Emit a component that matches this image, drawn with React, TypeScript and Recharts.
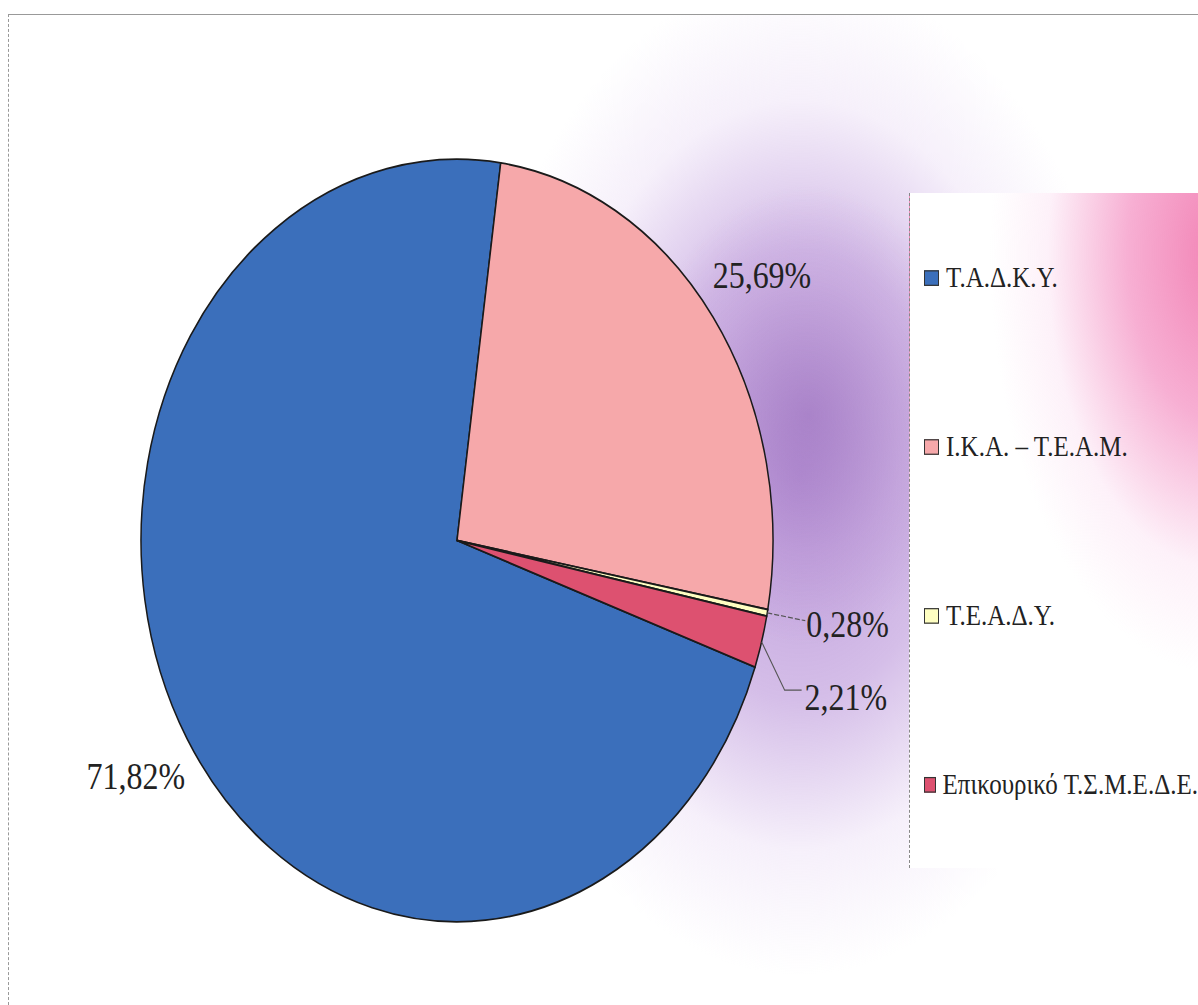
import { PieChart, Pie, Cell, Legend } from "recharts";

// funds and their shares (%)
const funds = ["Τ.Α.Δ.Κ.Υ.", "Ι.Κ.Α. – Τ.Ε.Α.Μ.", "Τ.Ε.Α.Δ.Υ.", "Επικουρικό Τ.Σ.Μ.Ε.Δ.Ε."];
const shares = [71.82, 25.69, 0.28, 2.21];
const colors = ["#3b6fbb", "#f6a8aa", "#ffffc2", "#dd5170"];

const data = funds.map((name, i) => ({ name, value: shares[i] }));

// the original picture is stretched vertically
const STRETCH = 1.2065;
const RAD = Math.PI / 180;
const FONT = "'Liberation Serif', 'Times New Roman', serif";

const fmt = (p: number) => (p * 100).toFixed(2).replace(".", ",") + "%";

const renderLabel = (props: any) => {
  const { cx, cy, midAngle, outerRadius, percent, index } = props;
  const cos = Math.cos(-midAngle * RAD);
  const sin = Math.sin(-midAngle * RAD);
  const text = fmt(percent);

  if (percent > 0.05) {
    const r = outerRadius * 1.19;
    return (
      <text
        x={cx + r * cos}
        y={cy + r * sin}
        textAnchor="middle"
        dominantBaseline="central"
        fontFamily={FONT}
        fontSize={32}
        fill="#222"
      >
        {text}
      </text>
    );
  }

  // small slices get a leader line out to the right
  const ex = cx + outerRadius * cos;
  const ey = cy + outerRadius * sin;
  if (index === 2) {
    return (
      <g>
        <path d={`M${ex},${ey}L${ex + 38},${ey + 6.5}`} stroke="#555" strokeWidth={1} strokeDasharray="5 2" fill="none" />
        <text x={ex + 39} y={ey + 9.5} dominantBaseline="central" fontFamily={FONT} fontSize={32} fill="#222">
          {text}
        </text>
      </g>
    );
  }
  return (
    <g>
      <path d={`M${ex},${ey}L${ex + 23},${ey + 40}L${ex + 40},${ey + 40}`} stroke="#555" strokeWidth={1} fill="none" />
      <text x={ex + 43} y={ey + 46} dominantBaseline="central" fontFamily={FONT} fontSize={32} fill="#222">
        {text}
      </text>
    </g>
  );
};

const renderLegend = (props: any) => {
  const items = [...props.payload].sort(
    (a: any, b: any) => funds.indexOf(a.value) - funds.indexOf(b.value)
  );
  return (
    <div
      style={{
        display: "flex",
        flexDirection: "column",
        justifyContent: "space-around",
        height: 560,
        paddingLeft: 15,
        boxSizing: "border-box",
      }}
    >
      {items.map((entry: any, i: number) => (
        <div key={i} style={{ display: "flex", alignItems: "center", height: 30 }}>
          <span
            style={{
              display: "inline-block",
              width: 13,
              height: 11,
              background: entry.color,
              border: "1px solid #333",
              marginRight: 7,
            }}
          />
          <span style={{ fontFamily: FONT, fontSize: 25, color: "#222", whiteSpace: "nowrap" }}>
            {entry.value}
          </span>
        </div>
      ))}
    </div>
  );
};

export default function App() {
  return (
    <div style={{ position: "absolute", left: 0, top: 0, width: 1198, height: 1005, overflow: "hidden", background: "#fff" }}>
      {/* frame + purple glow */}
      <div
        style={{
          position: "absolute",
          left: 8,
          top: 14,
          width: 1200,
          height: 1000,
          borderTop: "1px solid #999",
          borderLeft: "1px dashed #999",
          background:
            "radial-gradient(ellipse 170px 230px at 800px 400px, rgba(150,105,185,0.55) 0%, rgba(170,125,200,0.25) 60%, rgba(255,255,255,0) 100%), " +
            "radial-gradient(ellipse 330px 500px at 790px 460px, rgba(175,135,210,0.85) 0%, rgba(190,155,220,0.65) 45%, rgba(225,205,240,0.3) 75%, rgba(255,255,255,0) 100%)",
        }}
      />
      {/* legend box */}
      <div
        style={{
          position: "absolute",
          left: 909,
          top: 193,
          width: 300,
          height: 675,
          borderLeft: "1px dashed #888",
          background:
            "radial-gradient(ellipse 230px 420px at 310px 60px, rgba(242,130,180,1) 0%, rgba(245,155,200,0.8) 40%, rgba(250,215,238,0.35) 75%, rgba(255,255,255,0) 100%), #fff",
        }}
      />
      <div
        style={{
          position: "absolute",
          left: 0,
          top: 0,
          width: 1198,
          height: 833,
          transform: `scaleY(${STRETCH})`,
          transformOrigin: "0 0",
        }}
      >
        <PieChart width={1198} height={833} margin={{ top: 0, right: 0, bottom: 0, left: 0 }}>
          <Pie
            data={data}
            dataKey="value"
            nameKey="name"
            cx={457}
            cy={448}
            outerRadius={316}
            startAngle={-19.4}
            endAngle={-379.4}
            stroke="#1a1a1a"
            strokeWidth={1.5}
            label={renderLabel}
            labelLine={false}
            isAnimationActive={false}
          >
            {data.map((d, i) => (
              <Cell key={d.name} fill={colors[i]} />
            ))}
          </Pie>
          <Legend
            layout="vertical"
            align="right"
            verticalAlign="top"
            content={renderLegend}
            wrapperStyle={{ left: 909, top: 160, width: 289, height: 560 }}
          />
        </PieChart>
      </div>
    </div>
  );
}
